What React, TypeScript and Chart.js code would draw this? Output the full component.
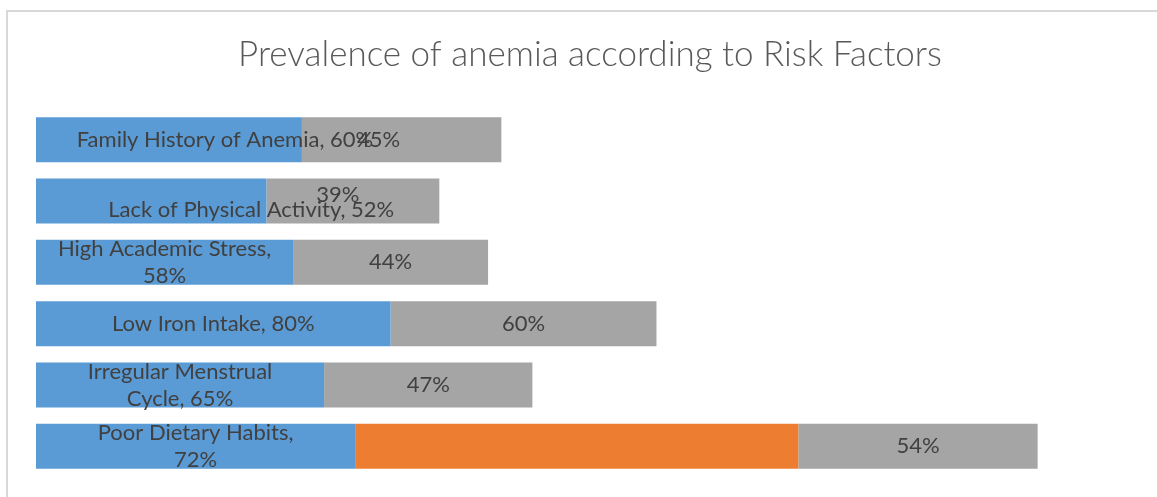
import React, { useEffect, useRef } from "react";
import { Chart, registerables } from "chart.js";

Chart.register(...registerables);

const TITLE = "Prevalence of anemia according to Risk Factors";
const categories = [
  "Family History of Anemia",
  "Lack of Physical Activity",
  "High Academic Stress",
  "Low Iron Intake",
  "Irregular Menstrual Cycle",
  "Poor Dietary Habits",
];
const blueValues = [60, 52, 58, 80, 65, 72];
const orangeValues = [null, null, null, null, null, 100];
const grayValues = [45, 39, 44, 60, 47, 54];

const FONT = "Lato";
const LABEL_SIZE = 22;
const LINE_H = 27;
const WRAP_W = 225;
// manual label nudges (as in the source, some labels were dragged)
const blueAdjust: Record<number, { dx: number; dy: number; nowrap?: boolean }> = {
  0: { dx: 56, dy: 0, nowrap: true },
  1: { dx: 100, dy: 9, nowrap: true },
};
const grayAdjust: Record<number, { dx: number; dy: number }> = {
  0: { dx: -23, dy: 0 },
  1: { dx: -15, dy: -6 },
};

function wrap(ctx: CanvasRenderingContext2D, text: string, maxW: number): string[] {
  const words = text.split(" ");
  const lines: string[] = [];
  let cur = "";
  for (const w of words) {
    const t = cur ? cur + " " + w : w;
    if (ctx.measureText(t).width > maxW && cur) {
      lines.push(cur);
      cur = w;
    } else cur = t;
  }
  if (cur) lines.push(cur);
  return lines;
}

const labelPlugin = {
  id: "segLabels",
  afterDatasetsDraw(chart: any) {
    const ctx: CanvasRenderingContext2D = chart.ctx;
    ctx.save();
    ctx.font = `${LABEL_SIZE}px ${FONT}`;
    ctx.fillStyle = "#404040";
    ctx.textAlign = "center";
    ctx.textBaseline = "middle";
    const grayMeta = chart.getDatasetMeta(2);
    grayMeta.data.forEach((bar: any, i: number) => {
      const p = bar.getProps(["x", "y", "base"], true);
      const a = grayAdjust[i] || { dx: 0, dy: 0 };
      ctx.fillText(`${grayValues[i]}%`, (p.x + p.base) / 2 + a.dx, p.y + a.dy);
    });
    const blueMeta = chart.getDatasetMeta(0);
    blueMeta.data.forEach((bar: any, i: number) => {
      const p = bar.getProps(["x", "y", "base"], true);
      const a = blueAdjust[i] || { dx: 0, dy: 0 };
      const text = `${categories[i]}, ${blueValues[i]}%`;
      const lines = a.nowrap ? [text] : wrap(ctx, text, WRAP_W);
      const cx = (p.x + p.base) / 2 + a.dx;
      const cy = p.y + a.dy;
      lines.forEach((ln, k) => {
        ctx.fillText(ln, cx, cy + (k - (lines.length - 1) / 2) * LINE_H);
      });
    });
    ctx.restore();
  },
};

export default function App() {
  const ref = useRef<HTMLCanvasElement | null>(null);
  useEffect(() => {
    document.body.style.margin = "0";
    if (!ref.current) return;
    const chart = new Chart(ref.current, {
      type: "bar",
      data: {
        labels: categories,
        datasets: [
          { label: "Blue", data: blueValues, backgroundColor: "#5B9BD5" },
          { label: "Orange", data: orangeValues as any, backgroundColor: "#ED7D31" },
          { label: "Gray", data: grayValues, backgroundColor: "#A5A5A5" },
        ],
      },
      options: {
        indexAxis: "y",
        responsive: false,
        animation: false,
        datasets: { bar: { barPercentage: 0.733, categoryPercentage: 1, borderWidth: 0 } },
        layout: { padding: { left: 36, right: 13, top: 0, bottom: 20 } },
        scales: {
          x: { stacked: true, min: 0, max: 250, display: false },
          y: { stacked: true, display: false },
        },
        plugins: {
          legend: { display: false },
          tooltip: { enabled: false },
          title: {
            display: true,
            text: TITLE,
            color: "#595959",
            font: { family: FONT, size: 35, weight: "300" as any, lineHeight: 1.2 },
            padding: { top: 34, bottom: 33 },
          },
        },
      },
      plugins: [labelPlugin],
    });
    return () => chart.destroy();
  }, []);
  return (
    <div style={{ position: "fixed", left: 0, top: 0, width: 1157, height: 497, background: "#fff", overflow: "hidden" }}>
      <div
        style={{
          position: "absolute",
          left: 6,
          top: 10,
          right: -10,
          bottom: -10,
          borderTop: "2px solid #D9D9D9",
          borderLeft: "2px solid #D9D9D9",
        }}
      />
      <canvas ref={ref} width={1157} height={497} style={{ position: "absolute", left: 0, top: 0 }} />
    </div>
  );
}
